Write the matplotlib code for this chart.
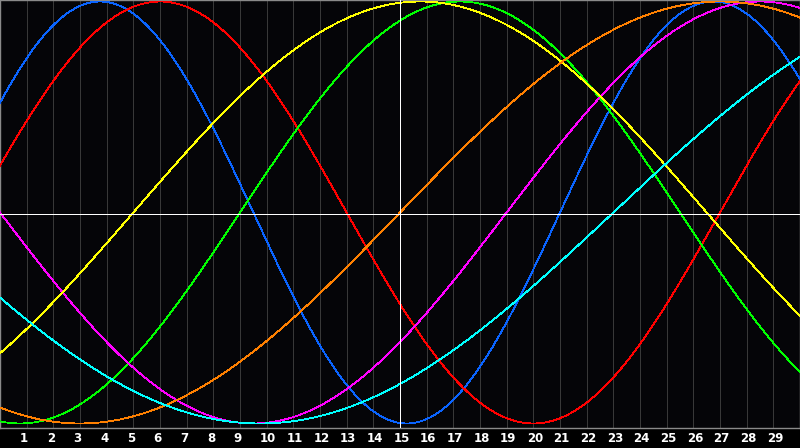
import numpy as np
import matplotlib
matplotlib.use("Agg")
import matplotlib.pyplot as plt
from matplotlib.transforms import offset_copy

# ---- data ----
days = list(range(1, 30))                       # tick labels 1..29
cycle_names = ["Physical", "Emotional", "Intellectual", "Intuitive",
               "Aesthetic", "Awareness", "Spiritual"]
cycle_periods = [23, 28, 33, 38, 43, 48, 53]     # days per cycle
cycle_rise_day = [21, 27, 9, 19, 5, 15, 23]      # day the curve crosses zero going up
cycle_colors = ["#0a64ff", "#ff0000", "#00ff00", "#ff00ff",
                "#ffff00", "#ff8000", "#00ffff"]
day_span = (0, 30)
highlight_day = 15

fig = plt.figure(figsize=(8.0, 4.48), dpi=100, facecolor="#000000")
ax = fig.add_axes([0, 20 / 448, 1, 428 / 448])
ax.set_facecolor("#050508")
ax.set_xlim(*day_span)
ax.set_ylim(-1.0213, 1.0071)

# day grid
for d in days:
    ax.axvline(d, color="#383838", lw=0.6, antialiased=False, zorder=1)

t = np.linspace(day_span[0], day_span[1], 1601)
for name, per, rise, col in zip(cycle_names, cycle_periods, cycle_rise_day, cycle_colors):
    ax.plot(t, np.sin(2 * np.pi * (t - rise) / per), color=col, lw=0.6,
            antialiased=False, zorder=3, label=name)

# white centre lines
ax.plot([0, 1], [0.5, 0.5], transform=ax.transAxes, color="white", lw=0.7,
        antialiased=False, zorder=4)
ax.axvline(highlight_day, color="white", lw=0.7, antialiased=False, zorder=4)

for s in ax.spines.values():
    s.set_color("#8a8a8a")
    s.set_linewidth(1.0)
ax.set_xticks([])
ax.set_yticks([])

# day labels below the plot
trans = offset_copy(ax.get_xaxis_transform(), fig=fig, x=-6.5, y=0, units="dots")
for d in days:
    ax.text(d, -10.5 / 428, str(d), transform=trans, ha="left", va="center",
            color="white", fontsize=8.5, fontweight="bold",
            family="DejaVu Sans", clip_on=False)

fig.savefig("out.png", dpi=100, facecolor=fig.get_facecolor())
